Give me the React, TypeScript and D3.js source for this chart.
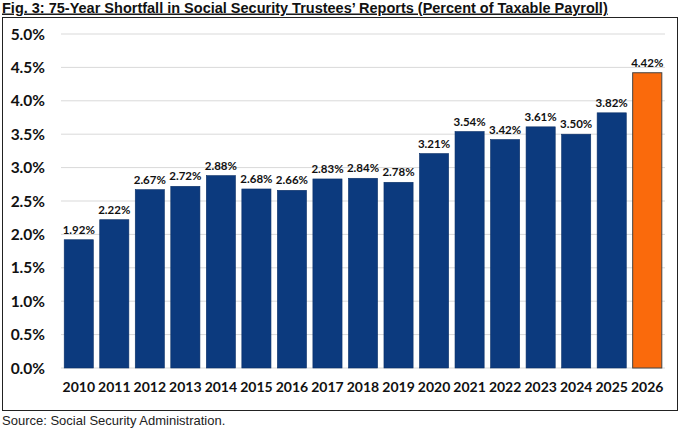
import React from "react";
import * as d3 from "d3";

const years = ["2010","2011","2012","2013","2014","2015","2016","2017","2018","2019","2020","2021","2022","2023","2024","2025","2026"];
const shortfall = [1.92,2.22,2.67,2.72,2.88,2.68,2.66,2.83,2.84,2.78,3.21,3.54,3.42,3.61,3.50,3.82,4.42];
const yTicks = [0,0.5,1,1.5,2,2.5,3,3.5,4,4.5,5];
const titleText = "Fig. 3: 75-Year Shortfall in Social Security Trustees’ Reports (Percent of Taxable Payroll)";
const sourceText = "Source: Social Security Administration.";

const W = 680, H = 430;
const NAVY = "#0c3a7e";
const ORANGE = "#fa6a0c";

export default function App() {
  const x = d3.scaleBand<string>().domain(years).range([61, 665]).paddingInner(0.18).paddingOuter(0.09);
  const y = d3.scaleLinear().domain([0, 5]).range([368, 34]);
  const labelFont = "Lato, 'Open Sans', sans-serif";
  return (
    <svg width={W} height={H} style={{ position: "absolute", left: 0, top: 0, background: "#fff" }}>
      <text x={2} y={12.5} fontFamily="'Liberation Sans', Arial, sans-serif" fontWeight="bold" fontSize={14.5} fill="#111" textDecoration="underline">{titleText}</text>
      <rect x={2.5} y={17.5} width={675} height={393} fill="none" stroke="#222" strokeWidth={1} />
      {yTicks.map((t) => (
        <g key={t}>
          {t > 0 && <line x1={61} x2={665} y1={y(t)} y2={y(t)} stroke="#d9d9d9" strokeWidth={1} />}
          <text x={45} y={y(t)} dy="0.36em" textAnchor="end" fontFamily={labelFont} fontWeight="bold" fontSize={15.5} fill="#111">{t.toFixed(1)}%</text>
        </g>
      ))}
      <line x1={61} x2={665} y1={y(0)} y2={y(0)} stroke="#d9d9d9" strokeWidth={1} />
      {years.map((yr, i) => {
        const v = shortfall[i];
        const last = i === years.length - 1;
        return (
          <g key={yr}>
            <rect x={x(yr)} y={y(v)} width={x.bandwidth()} height={y(0) - y(v)} fill={last ? ORANGE : NAVY} stroke={last ? "#444" : "#0a2f66"} strokeWidth={last ? 1 : 0.6} />
            <text x={(x(yr) as number) + x.bandwidth() / 2} y={y(v) - 6} textAnchor="middle" fontFamily={labelFont} fontWeight="bold" fontSize={11.5} fill="#111">{v.toFixed(2)}%</text>
            <text x={(x(yr) as number) + x.bandwidth() / 2} y={392} textAnchor="middle" fontFamily={labelFont} fontWeight="bold" fontSize={14} fill="#111">{yr}</text>
          </g>
        );
      })}
      <text x={2} y={425} fontFamily="'Liberation Sans', Arial, sans-serif" fontSize={13} fill="#222">{sourceText}</text>
    </svg>
  );
}
